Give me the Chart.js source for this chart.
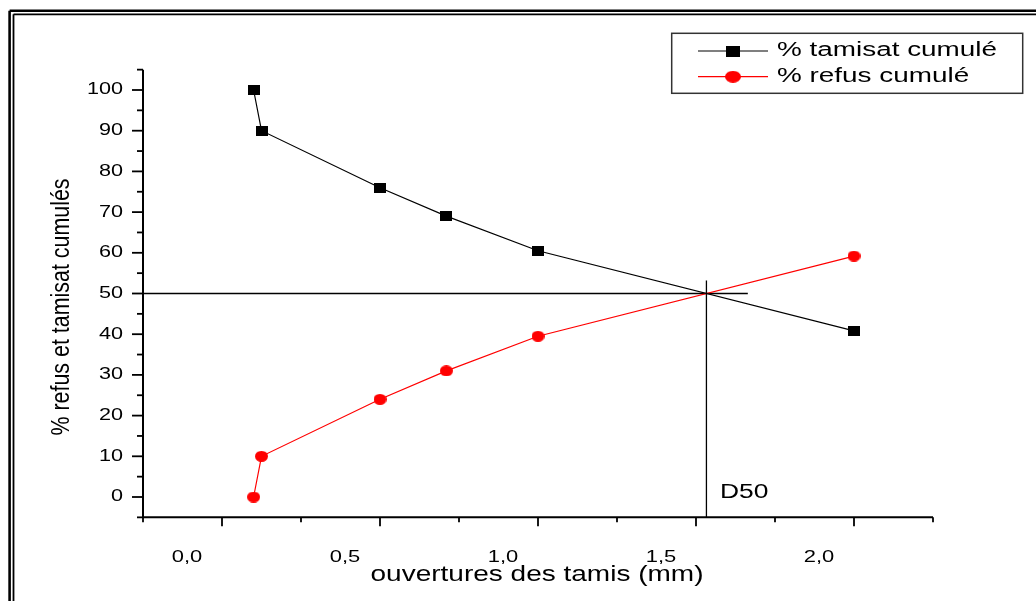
<!DOCTYPE html>
<html>
<head>
<meta charset="utf-8">
<title>Courbe granulométrique</title>
<script src="https://cdn.jsdelivr.net/npm/chart.js@4.4.0/dist/chart.umd.min.js"></script>
<style>
  html, body { margin: 0; padding: 0; background: #fff; }
  canvas { display: block; }
</style>
</head>
<body>
<canvas id="sieveChart" width="1036" height="601"></canvas>
<script>
// Sieve data (mm) and cumulative percentages
const sieveSizes = [0.1, 0.125, 0.5, 0.71, 1.0, 2.0];
const tamisatCumule = [100, 90, 76, 69, 60.5, 40.8];
const refusCumule = [0, 10, 24, 31, 39.5, 59.2];

// Axis ticks
const xMajorTicks = [0, 0.5, 1.0, 1.5, 2.0];
const xTickLabels = ['0,0', '0,5', '1,0', '1,5', '2,0'];
const xMinorTicks = [-0.25, 0.25, 0.75, 1.25, 1.75, 2.25];
const yMajorTicks = [0, 10, 20, 30, 40, 50, 60, 70, 80, 90, 100];
const yMinorTicks = [-5, 5, 15, 25, 35, 45, 55, 65, 75, 85, 95, 105];

// D50 construction
const d50Level = 50;
const d50Value = 1.533;
const d50HLineEnd = 1.664;
const d50VLineTop = 53.2;

const FONT = '"Liberation Sans", Arial, sans-serif';

// Markers are slightly wider than tall, like the original picture
function makeMarker(shape, color, w, h) {
    const c = document.createElement('canvas');
    c.width = w;
    c.height = h;
    const g = c.getContext('2d');
    g.fillStyle = color;
    if (shape === 'ellipse') {
        g.beginPath();
        g.ellipse(w / 2, h / 2, w / 2, h / 2, 0, 0, Math.PI * 2);
        g.fill();
    } else {
        g.fillRect(0, 0, w, h);
    }
    return c;
}

const squareMarker = makeMarker('rect', '#000000', 12, 10);
const dotMarker = makeMarker('ellipse', '#ff0000', 13, 11);
// legend uses bigger symbols
const legendMarkers = [
    makeMarker('rect', '#000000', 14, 11),
    makeMarker('ellipse', '#ff0000', 16, 12)
];

// Text in the reference is stretched horizontally
function drawText(ctx, text, x, y, size, sx, align, targetWidth) {
    ctx.save();
    ctx.font = size + 'px ' + FONT;
    ctx.textBaseline = 'middle';
    ctx.textAlign = align;
    if (targetWidth) {
        sx = targetWidth / ctx.measureText(text).width;
    }
    ctx.translate(x, y);
    ctx.scale(sx, 1);
    ctx.fillStyle = '#000';
    ctx.fillText(text, 0, 0);
    ctx.restore();
}

function line(ctx, x1, y1, x2, y2) {
    ctx.beginPath();
    ctx.moveTo(x1, y1);
    ctx.lineTo(x2, y2);
    ctx.stroke();
}

const d50Lines = {
    id: 'd50Lines',
    beforeDatasetsDraw(chart) {
        const ctx = chart.ctx;
        const xs = chart.scales.x, ys = chart.scales.y;
        ctx.save();
        ctx.strokeStyle = '#000';
        ctx.lineWidth = 1.3;
        line(ctx, chart.chartArea.left, ys.getPixelForValue(d50Level),
             xs.getPixelForValue(d50HLineEnd), ys.getPixelForValue(d50Level));
        line(ctx, xs.getPixelForValue(d50Value), ys.getPixelForValue(d50VLineTop),
             xs.getPixelForValue(d50Value), chart.chartArea.bottom);
        ctx.restore();
    }
};

const axesAndFrame = {
    id: 'axesAndFrame',
    afterDraw(chart) {
        const ctx = chart.ctx;
        const xs = chart.scales.x, ys = chart.scales.y;
        const area = chart.chartArea;
        const W = chart.width, H = chart.height;

        ctx.save();
        ctx.strokeStyle = '#000';
        ctx.lineCap = 'butt';

        // double frame (top and left only visible)
        ctx.lineWidth = 2.6;
        line(ctx, 9.6, 10.7, W, 10.7);
        line(ctx, 9.6, 10.7, 9.6, H);
        ctx.lineWidth = 1.8;
        line(ctx, 13.5, 14.3, W, 14.3);
        line(ctx, 13.5, 14.3, 13.5, H);

        // axis lines
        ctx.lineWidth = 2;
        line(ctx, area.left, area.bottom, area.right, area.bottom);
        line(ctx, area.left, ys.getPixelForValue(105), area.left, area.bottom + 1);

        // x ticks
        ctx.lineWidth = 1.8;
        xMajorTicks.forEach(v => {
            const px = xs.getPixelForValue(v);
            line(ctx, px, area.bottom, px, area.bottom + 9);
        });
        xMinorTicks.forEach(v => {
            const px = xs.getPixelForValue(v);
            line(ctx, px, area.bottom, px, area.bottom + 5);
        });

        // y ticks
        yMajorTicks.forEach(v => {
            const py = ys.getPixelForValue(v);
            line(ctx, area.left - 11, py, area.left, py);
        });
        yMinorTicks.forEach(v => {
            const py = ys.getPixelForValue(v);
            line(ctx, area.left - 6, py, area.left, py);
        });
        ctx.restore();

        // tick labels
        xMajorTicks.forEach((v, i) => {
            drawText(ctx, xTickLabels[i], xs.getPixelForValue(v) - 35, 558, 16, 1.37, 'center');
        });
        yMajorTicks.forEach(v => {
            drawText(ctx, String(v), 123, ys.getPixelForValue(v), 16, 1.35, 'right');
        });

        // axis titles
        drawText(ctx, 'ouvertures des tamis (mm)', 537, 575, 22, 1, 'center', 333);

        ctx.save();
        ctx.font = '20px ' + FONT;
        const yTitle = '% refus et tamisat cumulés';
        const sLen = 257 / ctx.measureText(yTitle).width;
        ctx.translate(62, 307);
        ctx.rotate(-Math.PI / 2);
        ctx.scale(sLen, 1.3);
        ctx.textAlign = 'center';
        ctx.textBaseline = 'middle';
        ctx.fillStyle = '#000';
        ctx.fillText(yTitle, 0, 0);
        ctx.restore();

        // D50 label
        drawText(ctx, 'D50', 720, 492, 20, 1.32, 'left');

        // legend
        ctx.save();
        ctx.strokeStyle = '#333';
        ctx.lineWidth = 1.5;
        ctx.strokeRect(671.7, 33.3, 351, 60);
        const rows = [51, 76.7];
        chart.data.datasets.forEach((ds, i) => {
            const y = rows[i];
            ctx.strokeStyle = ds.borderColor;
            ctx.lineWidth = 1.2;
            line(ctx, 698, y, 768, y);
            const m = legendMarkers[i];
            ctx.drawImage(m, 733 - m.width / 2, y - m.height / 2);
        });
        ctx.restore();
        chart.data.datasets.forEach((ds, i) => {
            drawText(ctx, ds.label, 777, rows[i], 19.5, 1.43, 'left');
        });
    }
};

new Chart(document.getElementById('sieveChart'), {
    type: 'scatter',
    data: {
        datasets: [
            {
                label: '% tamisat cumulé',
                data: sieveSizes.map((s, i) => ({ x: s, y: tamisatCumule[i] })),
                showLine: true,
                borderColor: '#000000',
                borderWidth: 1.2,
                pointStyle: squareMarker
            },
            {
                label: '% refus cumulé',
                data: sieveSizes.map((s, i) => ({ x: s, y: refusCumule[i] })),
                showLine: true,
                borderColor: '#ff0000',
                borderWidth: 1.2,
                pointStyle: dotMarker
            }
        ]
    },
    options: {
        responsive: false,
        animation: false,
        events: [],
        layout: {
            padding: { left: 143, right: 103, top: 69.65, bottom: 83.65 }
        },
        plugins: {
            legend: { display: false },
            tooltip: { enabled: false }
        },
        scales: {
            x: { type: 'linear', min: -0.25, max: 2.25, display: false },
            y: { type: 'linear', min: -5, max: 105, display: false }
        }
    },
    plugins: [d50Lines, axesAndFrame]
});
</script>
</body>
</html>
